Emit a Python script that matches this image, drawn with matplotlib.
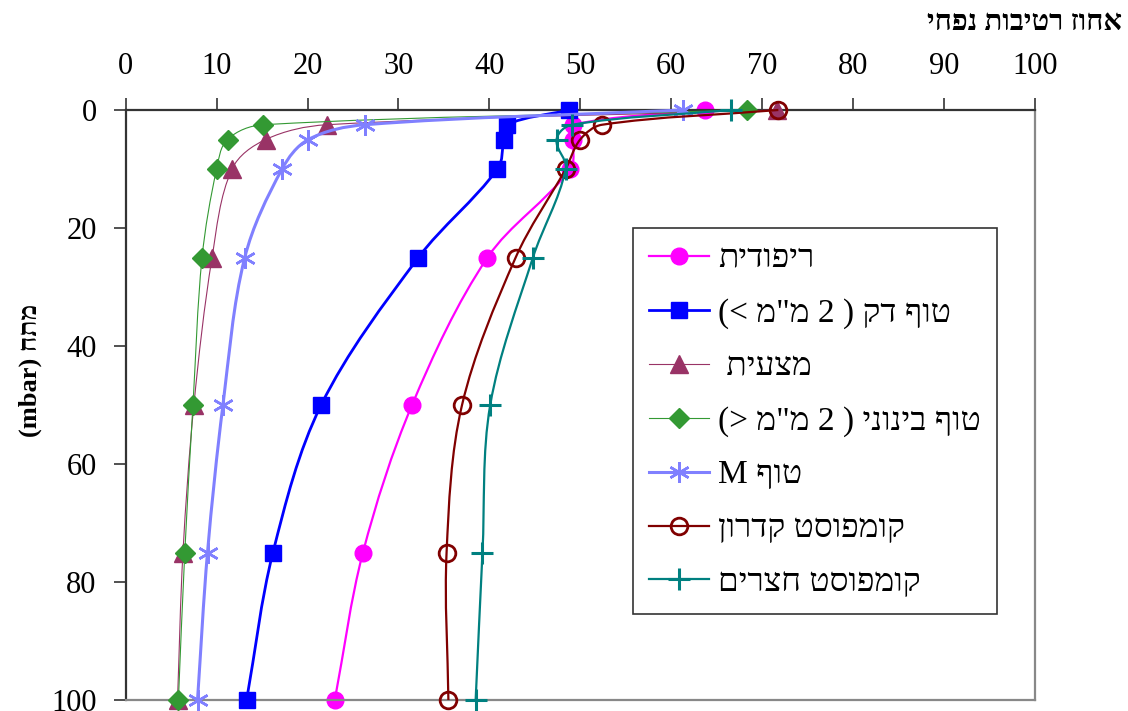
import re
import matplotlib
matplotlib.use('Agg')
import matplotlib.pyplot as plt
from matplotlib.path import Path
from matplotlib.patches import PathPatch
from matplotlib.lines import Line2D
import numpy as np

plt.rcParams['font.family'] = ['Liberation Serif', 'DejaVu Serif']

# suction levels (mbar) and volumetric water content (%) per substrate
depth = [0, 2.5, 5, 10, 25, 50, 75, 100]
ripudit = [63.7, 49.2, 49.2, 48.9, 39.8, 31.5, 26.1, 23.0]
tuf_dak = [48.8, 41.9, 41.6, 40.9, 32.2, 21.5, 16.2, 13.3]
matzait = [71.6, 22.1, 15.4, 11.7, 9.5, 7.5, 6.3, 5.7]
tuf_beinoni = [68.4, 15.1, 11.2, 10.0, 8.4, 7.4, 6.5, 5.8]
tuf_m = [61.3, 26.3, 20.1, 17.2, 13.1, 10.7, 9.0, 7.9]
kidron = [71.8, 52.4, 50.0, 48.4, 42.9, 37.0, 35.3, 35.5]
hatzerim = [66.6, 49.1, 47.4, 48.4, 44.8, 40.1, 39.25, 38.5]

labels = ['ריפודית', 'טוף דק ( 2 מ"מ >)', 'מצעית ', 'טוף בינוני ( 2 מ"מ <)',
          'טוף M', 'קומפוסט קדרון', 'קומפוסט חצרים']
x_title = 'אחוז רטיבות נפחי'
y_title = 'מתח (mbar)'


def bidi(s):
    # matplotlib draws left to right, so put the Hebrew into visual order
    out = s[::-1]
    out = re.sub(r'[A-Za-z0-9]+', lambda m: m.group(0)[::-1], out)
    return out.translate(str.maketrans('()<>', ')(><'))


def smooth_path(ax, xs, ys):
    # smoothed line like Excel: cubic Bezier through the points, built in pixels
    pts = ax.transData.transform(np.column_stack([xs, ys]))
    n = len(pts)
    tang = []
    for i in range(n):
        d = pts[min(i + 1, n - 1)] - pts[max(i - 1, 0)]
        tang.append(d / np.hypot(*d))
    verts = [pts[0]]
    codes = [Path.MOVETO]
    for i in range(n - 1):
        L = np.hypot(*(pts[i + 1] - pts[i]))
        verts += [pts[i] + tang[i] * L / 3, pts[i + 1] - tang[i + 1] * L / 3, pts[i + 1]]
        codes += [Path.CURVE4] * 3
    return Path(ax.transData.inverted().transform(np.array(verts)), codes)


fig = plt.figure(figsize=(11.28, 7.11), dpi=100)
ax = fig.add_axes([125.7 / 1128, 1 - 700 / 711, 909 / 1128, 590 / 711])
ax.set_xlim(0, 100)
ax.set_ylim(100, 0)

styles = [
    (ripudit, dict(color='#FF00FF', marker='o', ms=12, mfc='#FF00FF', mew=1), 1.6),
    (tuf_dak, dict(color='#0000FF', marker='s', ms=11, mfc='#0000FF', mew=1), 2.0),
    (matzait, dict(color='#993366', marker='^', ms=13, mfc='#993366', mew=1), 0.8),
    (tuf_beinoni, dict(color='#339933', marker='D', ms=10, mfc='#339933', mew=1), 0.8),
    (tuf_m, dict(color='#8080FF', marker=(6, 2, 0), ms=15, mfc='#8080FF', mew=1.8), 2.2),
    (kidron, dict(color='#800000', marker='o', ms=12, mfc='none', mew=2), 1.6),
    (hatzerim, dict(color='#008080', marker='+', ms=16, mfc='#008080', mew=2.2), 1.6),
]

handles = []
for k, (vals, st, lw) in enumerate(styles):
    ax.add_patch(PathPatch(smooth_path(ax, vals, depth), fill=False, edgecolor=st['color'],
                           lw=lw, zorder=2 + k, clip_on=False))
    ax.plot(vals, depth, linestyle='none', marker=st['marker'], ms=st['ms'],
            mfc=st['mfc'], mec=st['color'], mew=st['mew'], zorder=2.5 + k, clip_on=False)
    handles.append(Line2D([], [], color=st['color'], lw=lw, marker=st['marker'], ms=st['ms'],
                          mfc=st['mfc'], mec=st['color'], mew=st['mew']))

ax.xaxis.tick_top()
ax.set_xticks(range(0, 101, 10))
ax.set_yticks(range(0, 101, 20))
ax.tick_params(axis='both', labelsize=22, length=9, width=1.2, color='#333333', direction='out')
ax.tick_params(axis='x', pad=12)
ax.tick_params(axis='y', pad=12)
for side in ['top', 'left']:
    ax.spines[side].set_color('#333333')
    ax.spines[side].set_linewidth(1.6)
for side in ['right', 'bottom']:
    ax.spines[side].set_color('#888888')
    ax.spines[side].set_linewidth(1.6)

leg = ax.legend(handles, [bidi(s) for s in labels], loc='upper left',
                bbox_to_anchor=(633 / 1128, 1 - 228 / 711), bbox_transform=fig.transFigure,
                fontsize=24, frameon=True, fancybox=False, edgecolor='black',
                handlelength=1.8, handletextpad=0.27, labelspacing=0.7, borderpad=0.48,
                borderaxespad=0)
leg.get_frame().set_linewidth(1.2)
leg.set_zorder(20)

fig.text(1122 / 1128, 1 - 22 / 711, bidi(x_title), ha='right', va='center',
         fontsize=21, fontweight='bold')
fig.text(30 / 1128, 1 - 370 / 711, bidi(y_title), ha='center', va='center',
         rotation=90, fontsize=19, fontweight='bold')

fig.savefig('out.png', dpi=100)
